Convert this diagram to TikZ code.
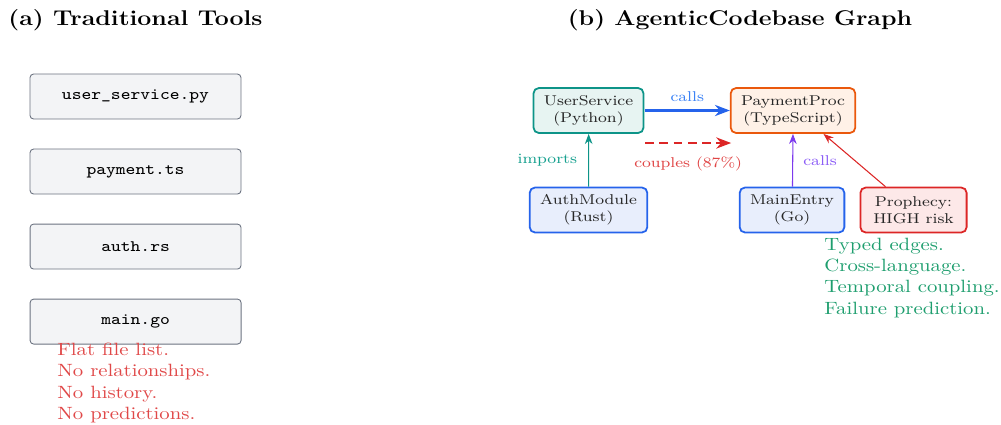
\documentclass[tikz,border=0pt]{standalone}
\usepackage{tikz}
\usetikzlibrary{arrows.meta,positioning}

%Couleurs
\definecolor{filegray}{HTML}{F3F4F6}
\definecolor{fileborder}{HTML}{6B7280}
\definecolor{tealline}{HTML}{0D9488}
\definecolor{tealfill}{HTML}{E7F4F2}
\definecolor{teallabel}{HTML}{16A08F}
\definecolor{orangeline}{HTML}{EA580C}
\definecolor{orangefill}{HTML}{FFF1E7}
\definecolor{blueline}{HTML}{2563EB}
\definecolor{bluefill}{HTML}{E8EEFC}
\definecolor{bluelabel}{HTML}{3B82F6}
\definecolor{redline}{HTML}{DC2626}
\definecolor{redfill}{HTML}{FDE8E8}
\definecolor{redlabel}{HTML}{E04545}
\definecolor{purpleline}{HTML}{7C3AED}
\definecolor{purplelabel}{HTML}{8B5CF6}
\definecolor{redtext}{HTML}{E04848}
\definecolor{greentext}{HTML}{1E9E6E}

\tikzset{
  filebox/.style={draw=fileborder, fill=filegray, rounded corners=2pt, line width=0.5pt,
    minimum width=101.7pt, minimum height=25.3pt, font=\small\ttfamily},
  graphnode/.style={rounded corners=3pt, line width=1pt, minimum height=25.3pt,
    inner xsep=5pt, align=center, font=\footnotesize, text=black!85},
  edgelabel/.style={font=\footnotesize},
  notetext/.style={anchor=north west, inner sep=0pt, align=left},
}

\begin{document}
\begin{tikzpicture}[x=0.4821pt, y=-0.5625pt, xscale=1.1667, every node/.append style={transform shape}]

\useasboundingbox (0,0) rectangle (1001,424);

%Titres
\node[font=\large\bfseries] (titletrad) at (135.5,20) {(a) Traditional Tools};
\node[font=\large\bfseries] (titlegraph) at (740,20) {(b) AgenticCodebase Graph};

%%% Outils traditionnels %%%
\node[filebox] (userfile) at (135.5,96.5) {user\_service.py};
\node[filebox, below=16.4pt of userfile] (paymentfile) {payment.ts};
\node[filebox, below=16.4pt of paymentfile] (authfile) {auth.rs};
\node[filebox, below=16.4pt of authfile] (mainfile) {main.go};

\node[notetext, text=redtext] (flatnote) at (57,342.7) {Flat file list.\\No relationships.\\No history.\\No predictions.};

%%% Graphe %%%
\node[graphnode, draw=tealline, fill=tealfill] (userservice) at (588.5,110.5) {UserService\\(Python)};
\node[graphnode, draw=orangeline, fill=orangefill] (paymentproc) at (793,110.5) {PaymentProc\\(TypeScript)};
\node[graphnode, draw=blueline, fill=bluefill] (authmodule) at (588.5,210) {AuthModule\\(Rust)};
\node[graphnode, draw=blueline, fill=bluefill] (mainentry) at (792,210) {MainEntry\\(Go)};
\node[graphnode, draw=redline, fill=redfill, inner xsep=6.2pt] (prophecy) at (913.5,210) {Prophecy:\\HIGH risk};

%Arêtes
\draw[-{Stealth}, blueline, line width=1.2pt] (userservice) -- node[above=1pt, edgelabel, text=bluelabel] (callslabel) {calls} (paymentproc);

\coordinate (couplestart) at (645,143);
\coordinate (coupleend) at (731,143);
\draw[-{Stealth}, redline, line width=1.2pt, dash pattern=on 5pt off 3pt] (couplestart) -- node[below=4pt, edgelabel, text=redlabel] (coupleslabel) {couples (87\%)} (coupleend);

\draw[-{Stealth}, tealline, line width=0.6pt] (authmodule) -- node[left=2pt, edgelabel, text=teallabel] (importslabel) {imports} (userservice);
\draw[-{Stealth}, purpleline, line width=0.6pt] (mainentry) -- node[right=1.5pt, edgelabel, text=purplelabel] (mainlabel) {calls} (paymentproc);
\draw[-{Stealth}, redline, line width=0.6pt] (prophecy.136) -- (paymentproc.-42);

\node[notetext, text=greentext] (graphnote) at (824,237.4) {Typed edges.\\Cross-language.\\Temporal coupling.\\Failure prediction.};

\end{tikzpicture}
\end{document}
